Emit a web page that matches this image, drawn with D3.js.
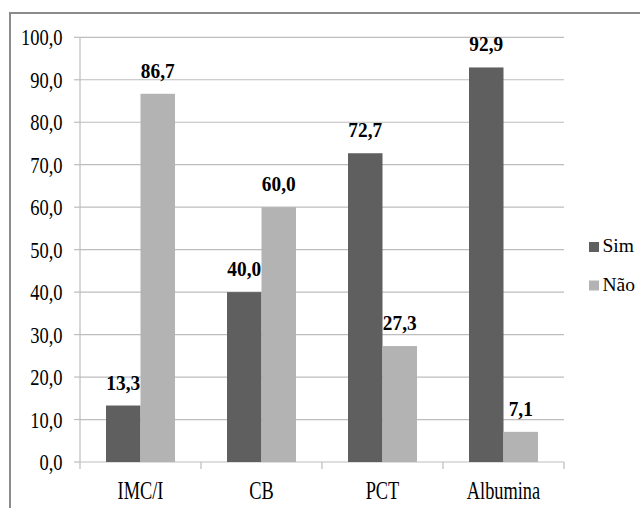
<!DOCTYPE html>
<html>
<head>
<meta charset="utf-8">
<script src="https://cdn.jsdelivr.net/npm/d3@7"></script>
</head>
<body style="margin:0">
<svg id="chart" width="640" height="508" font-family="Liberation Serif" style="font-family: 'Liberation Serif', 'Times New Roman', Tinos, Times, serif;"></svg>
<script>
// Categories and series (percent)
const categories = ["IMC/I", "CB", "PCT", "Albumina"];
const seriesNames = ["Sim", "Não"];
const simValues = [13.3, 40.0, 72.7, 92.9];
const naoValues = [86.7, 60.0, 27.3, 7.1];
const yTicks = [0, 10, 20, 30, 40, 50, 60, 70, 80, 90, 100];

const colors = { "Sim": "#5f5f5f", "Não": "#b3b3b3" };
const fmt = v => v.toFixed(1).replace(".", ",");
const serifFamily = "Liberation Serif";

// Narrow a text run horizontally by a factor, keeping the glyph height
function condense(sel, factor) {
  sel.each(function () {
    const w = this.getComputedTextLength();
    d3.select(this)
      .attr("textLength", (w * factor).toFixed(2))
      .attr("lengthAdjust", "spacingAndGlyphs");
  });
}

const svg = d3.select("#chart");

// Outer frame (left and top edges visible)
svg.append("path")
  .attr("d", "M10,508 L10,13 L640,13")
  .attr("fill", "none")
  .attr("stroke", "#8c8c8c")
  .attr("stroke-width", 2);

const plot = { left: 80, right: 564, top: 37.3, bottom: 462 };

const x0 = d3.scaleBand()
  .domain(categories)
  .range([plot.left, plot.right])
  .paddingInner(0.43)
  .paddingOuter(0.215);
const x1 = d3.scaleBand()
  .domain(seriesNames)
  .range([0, x0.bandwidth()]);
const y = d3.scaleLinear().domain([0, 100]).range([plot.bottom, plot.top]);

// Gridlines
svg.append("g").selectAll("line")
  .data(yTicks.filter(t => t > 0))
  .join("line")
  .attr("x1", plot.left).attr("x2", plot.right)
  .attr("y1", d => y(d)).attr("y2", d => y(d))
  .attr("stroke", "#bdbdbd").attr("stroke-width", 1.2);

// Y axis line + ticks
svg.append("line")
  .attr("x1", plot.left).attr("x2", plot.left)
  .attr("y1", y(100)).attr("y2", y(0))
  .attr("stroke", "#bdbdbd").attr("stroke-width", 1.2);
svg.append("g").selectAll("line")
  .data(yTicks)
  .join("line")
  .attr("x1", plot.left - 6).attr("x2", plot.left)
  .attr("y1", d => y(d)).attr("y2", d => y(d))
  .attr("stroke", "#bdbdbd").attr("stroke-width", 1.2);

// X axis line + category ticks
svg.append("line")
  .attr("x1", plot.left).attr("x2", plot.right)
  .attr("y1", y(0)).attr("y2", y(0))
  .attr("stroke", "#bdbdbd").attr("stroke-width", 1.2);
const step = x0.step();
const boundaries = d3.range(categories.length + 1).map(i => plot.left + i * step);
svg.append("g").selectAll("line")
  .data(boundaries)
  .join("line")
  .attr("x1", d => d).attr("x2", d => d)
  .attr("y1", y(0)).attr("y2", y(0) + 7)
  .attr("stroke", "#bdbdbd").attr("stroke-width", 1.2);

// Bars
const cells = [];
categories.forEach((c, i) => {
  cells.push({ cat: c, s: "Sim", v: simValues[i] });
  cells.push({ cat: c, s: "Não", v: naoValues[i] });
});
const cx = d => x0(d.cat) + x1(d.s);

svg.append("g").selectAll("rect")
  .data(cells)
  .join("rect")
  .attr("x", cx)
  .attr("width", x1.bandwidth())
  .attr("y", d => y(d.v))
  .attr("height", d => y(0) - y(d.v))
  .attr("fill", d => colors[d.s]);

// Y tick labels
svg.selectAll("text.ytick")
  .data(yTicks)
  .join("text")
  .attr("class", "ytick")
  .attr("font-family", serifFamily)
  .attr("x", 62.5)
  .attr("y", d => y(d) + 8)
  .attr("text-anchor", "end")
  .attr("font-size", 24)
  .text(fmt)
  .call(condense, 0.77);

// Category labels
svg.selectAll("text.cat")
  .data(categories)
  .join("text")
  .attr("class", "cat")
  .attr("font-family", serifFamily)
  .attr("x", d => x0(d) + x0.bandwidth() / 2)
  .attr("y", 499)
  .attr("text-anchor", "middle")
  .attr("font-size", 25.5)
  .text(d => d)
  .call(condense, 0.72);

// Value labels
svg.selectAll("text.val")
  .data(cells)
  .join("text")
  .attr("class", "val")
  .attr("font-family", serifFamily)
  .attr("x", d => cx(d) + x1.bandwidth() / 2)
  .attr("y", d => y(d.v) - 16)
  .attr("text-anchor", "middle")
  .attr("font-size", 21)
  .attr("font-weight", "bold")
  .text(d => fmt(d.v))
  .call(condense, 0.92);

// Legend
svg.append("g").selectAll("rect")
  .data(seriesNames)
  .join("rect")
  .attr("x", 589)
  .attr("y", (d, i) => 242 + i * 38.5)
  .attr("width", 10).attr("height", 10)
  .attr("fill", d => colors[d]);
svg.selectAll("text.leg")
  .data(seriesNames)
  .join("text")
  .attr("class", "leg")
  .attr("font-family", serifFamily)
  .attr("x", 602.5)
  .attr("y", (d, i) => 252 + i * 38.5)
  .attr("font-size", 19.5)
  .text(d => d);
</script>
</body>
</html>
